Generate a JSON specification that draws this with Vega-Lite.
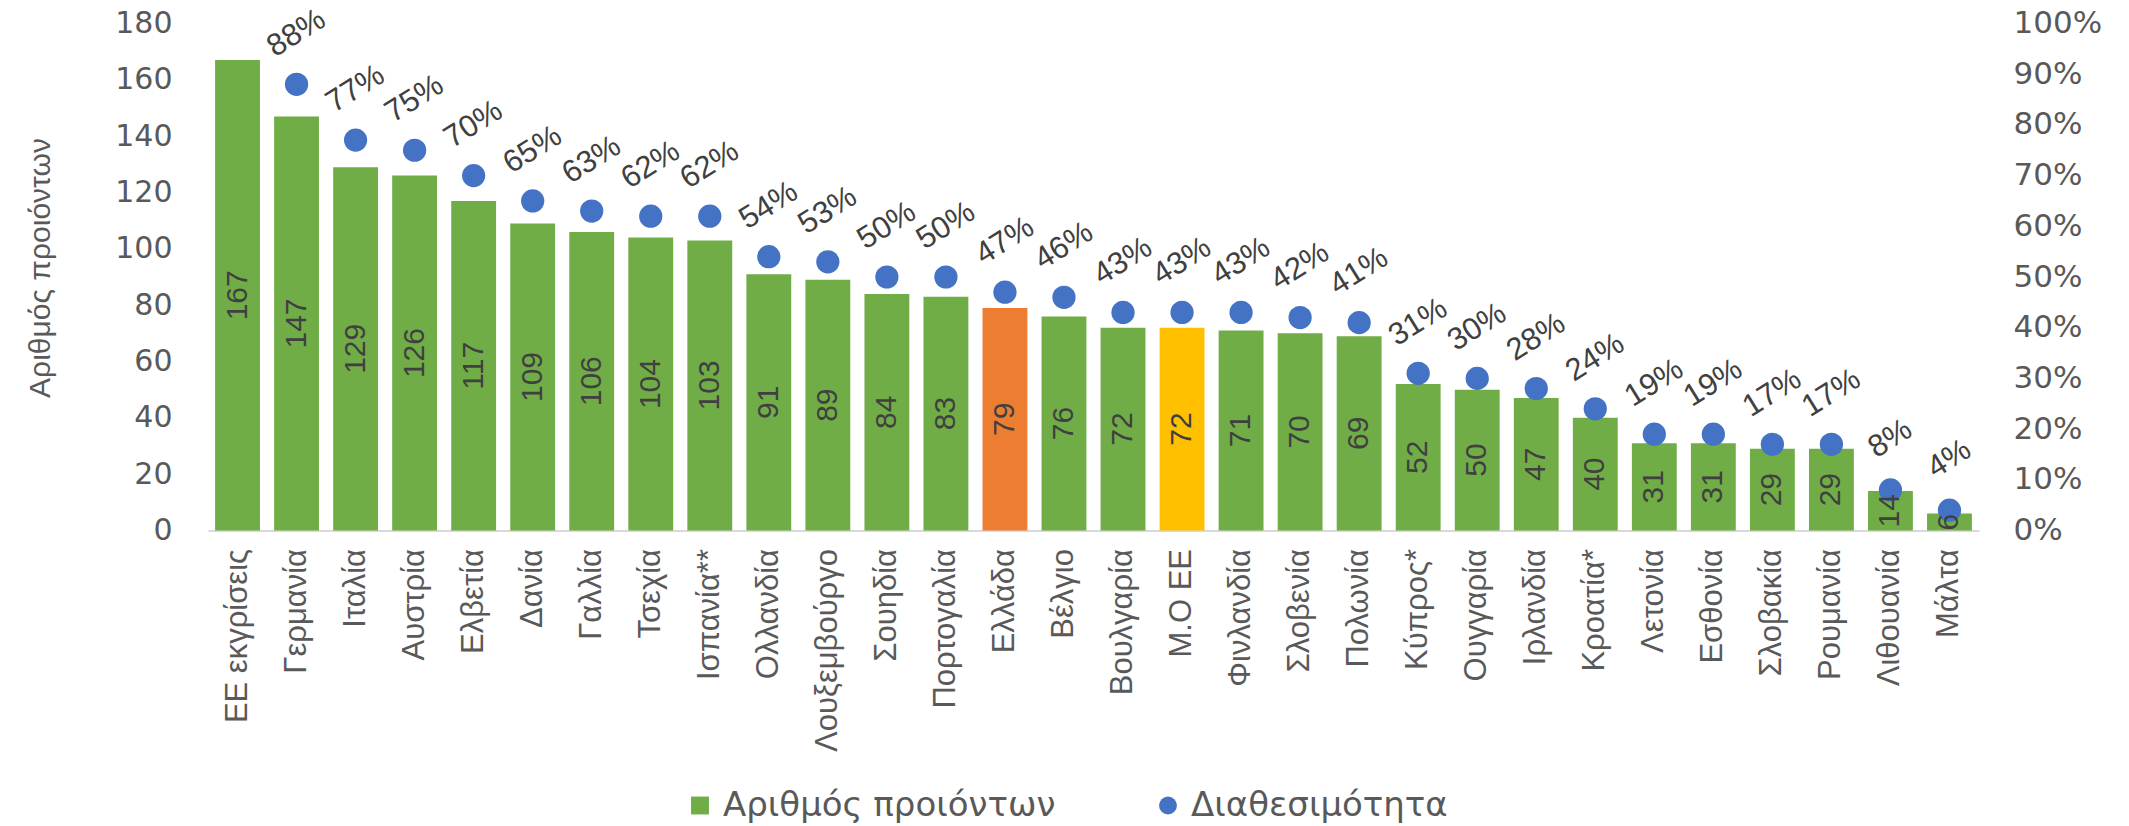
{
  "$schema": "https://vega.github.io/schema/vega-lite/v6.json",
  "autosize": "none",
  "width": 1771,
  "height": 507,
  "padding": {"left": 208, "top": 23.5, "right": 150, "bottom": 295.5},
  "background": "white",
  "config": {"view": {"stroke": null}},
  "data": {"values": [
    {"country": "ΕΕ εκγρίσεις", "count": 167, "avail": null, "group": "Αριθμός προιόντων"},
    {"country": "Γερμανία", "count": 147, "avail": 0.88, "group": "Αριθμός προιόντων"},
    {"country": "Ιταλία", "count": 129, "avail": 0.77, "group": "Αριθμός προιόντων"},
    {"country": "Αυστρία", "count": 126, "avail": 0.75, "group": "Αριθμός προιόντων"},
    {"country": "Ελβετία", "count": 117, "avail": 0.70, "group": "Αριθμός προιόντων"},
    {"country": "Δανία", "count": 109, "avail": 0.65, "group": "Αριθμός προιόντων"},
    {"country": "Γαλλία", "count": 106, "avail": 0.63, "group": "Αριθμός προιόντων"},
    {"country": "Τσεχία", "count": 104, "avail": 0.62, "group": "Αριθμός προιόντων"},
    {"country": "Ισπανία**", "count": 103, "avail": 0.62, "group": "Αριθμός προιόντων"},
    {"country": "Ολλανδία", "count": 91, "avail": 0.54, "group": "Αριθμός προιόντων"},
    {"country": "Λουξεμβούργο", "count": 89, "avail": 0.53, "group": "Αριθμός προιόντων"},
    {"country": "Σουηδία", "count": 84, "avail": 0.50, "group": "Αριθμός προιόντων"},
    {"country": "Πορτογαλία", "count": 83, "avail": 0.50, "group": "Αριθμός προιόντων"},
    {"country": "Ελλάδα", "count": 79, "avail": 0.47, "group": "Ελλάδα"},
    {"country": "Βέλγιο", "count": 76, "avail": 0.46, "group": "Αριθμός προιόντων"},
    {"country": "Βουλγαρία", "count": 72, "avail": 0.43, "group": "Αριθμός προιόντων"},
    {"country": "Μ.Ο ΕΕ", "count": 72, "avail": 0.43, "group": "Μ.Ο ΕΕ"},
    {"country": "Φινλανδία", "count": 71, "avail": 0.43, "group": "Αριθμός προιόντων"},
    {"country": "Σλοβενία", "count": 70, "avail": 0.42, "group": "Αριθμός προιόντων"},
    {"country": "Πολωνία", "count": 69, "avail": 0.41, "group": "Αριθμός προιόντων"},
    {"country": "Κύπρος*", "count": 52, "avail": 0.31, "group": "Αριθμός προιόντων"},
    {"country": "Ουγγαρία", "count": 50, "avail": 0.30, "group": "Αριθμός προιόντων"},
    {"country": "Ιρλανδία", "count": 47, "avail": 0.28, "group": "Αριθμός προιόντων"},
    {"country": "Κροατία*", "count": 40, "avail": 0.24, "group": "Αριθμός προιόντων"},
    {"country": "Λετονία", "count": 31, "avail": 0.19, "group": "Αριθμός προιόντων"},
    {"country": "Εσθονία", "count": 31, "avail": 0.19, "group": "Αριθμός προιόντων"},
    {"country": "Σλοβακία", "count": 29, "avail": 0.17, "group": "Αριθμός προιόντων"},
    {"country": "Ρουμανία", "count": 29, "avail": 0.17, "group": "Αριθμός προιόντων"},
    {"country": "Λιθουανία", "count": 14, "avail": 0.08, "group": "Αριθμός προιόντων"},
    {"country": "Μάλτα", "count": 6, "avail": 0.04, "group": "Αριθμός προιόντων"}
  ]},
  "encoding": {
    "x": {
      "field": "country", "type": "nominal", "sort": null,
      "scale": {"paddingInner": 0.24, "paddingOuter": 0.12},
      "axis": {
        "title": null, "labelAngle": -90, "labelAlign": "right", "labelBaseline": "middle",
        "labelPadding": 18, "labelFont": "Liberation Sans", "labelFontSize": 31,
        "labelColor": "#595959", "labelLimit": 400, "ticks": false,
        "domainColor": "#D9D9D9", "domainWidth": 2
      }
    }
  },
  "layer": [
    {
      "mark": {"type": "bar"},
      "encoding": {
        "y": {
          "field": "count", "type": "quantitative",
          "scale": {"domain": [0, 180], "nice": false},
          "axis": {
            "orient": "left", "values": [0, 20, 40, 60, 80, 100, 120, 140, 160, 180],
            "grid": false, "domain": false, "ticks": false, "labelPadding": 36,
            "labelFont": "DejaVu Sans", "labelFontSize": 30, "labelColor": "#595959",
            "title": "Αριθμός προιόντων", "titleFont": "Liberation Sans", "titleFontSize": 30,
            "titleFontWeight": "normal", "titleColor": "#595959",
            "titleX": -168, "titleY": 244, "titleAlign": "center", "titleBaseline": "middle", "titleAngle": -90
          }
        },
        "color": {
          "field": "group", "type": "nominal",
          "scale": {
            "domain": ["Αριθμός προιόντων", "Διαθεσιμότητα", "Ελλάδα", "Μ.Ο ΕΕ"],
            "range": ["#70AD47", "#4472C4", "#ED7D31", "#FFC000"]
          },
          "legend": {
            "values": ["Αριθμός προιόντων", "Διαθεσιμότητα"],
            "orient": "none", "legendX": 475, "legendY": 765, "direction": "horizontal",
            "title": null, "labelFont": "DejaVu Sans", "labelFontSize": 34, "labelColor": "#595959",
            "symbolSize": 320, "symbolOffset": 0, "labelOffset": 6, "columnPadding": 95,
            "labelLimit": 500, "symbolStrokeWidth": 0,
            "encode": {"symbols": {"update": {
              "shape": {"signal": "datum.value === 'Διαθεσιμότητα' ? 'circle' : 'square'"}
            }}}
          }
        }
      }
    },
    {
      "transform": [{"filter": "datum.avail != null"}],
      "mark": {"type": "point", "filled": true, "size": 540, "opacity": 1, "shape": "circle"},
      "encoding": {
        "y": {
          "field": "avail", "type": "quantitative",
          "scale": {"domain": [0, 1], "nice": false},
          "axis": {
            "orient": "right", "values": [0, 0.1, 0.2, 0.3, 0.4, 0.5, 0.6, 0.7, 0.8, 0.9, 1],
            "format": ".0%", "grid": false, "domain": false, "ticks": false, "labelPadding": 34,
            "labelFont": "DejaVu Sans", "labelFontSize": 31, "labelColor": "#595959", "title": null
          }
        },
        "color": {"datum": "Διαθεσιμότητα", "type": "nominal"}
      }
    },
    {
      "mark": {"type": "text", "angle": -90, "align": "center", "baseline": "middle",
               "font": "Liberation Sans", "fontSize": 30, "color": "#404040"},
      "encoding": {
        "y": {"field": "count", "type": "quantitative", "scale": {"domain": [0, 360], "nice": false}, "axis": null},
        "text": {"field": "count", "type": "quantitative"}
      }
    },
    {
      "transform": [{"filter": "datum.avail != null"}],
      "mark": {"type": "text", "angle": -32, "align": "center", "baseline": "middle",
               "radius": 51, "theta": 0,
               "font": "Liberation Sans", "fontSize": 31, "color": "#404040"},
      "encoding": {
        "y": {"field": "avail", "type": "quantitative", "scale": {"domain": [0, 1], "nice": false}, "axis": null},
        "text": {"field": "avail", "type": "quantitative", "format": ".0%"}
      }
    }
  ],
  "resolve": {"scale": {"y": "independent"}}
}
